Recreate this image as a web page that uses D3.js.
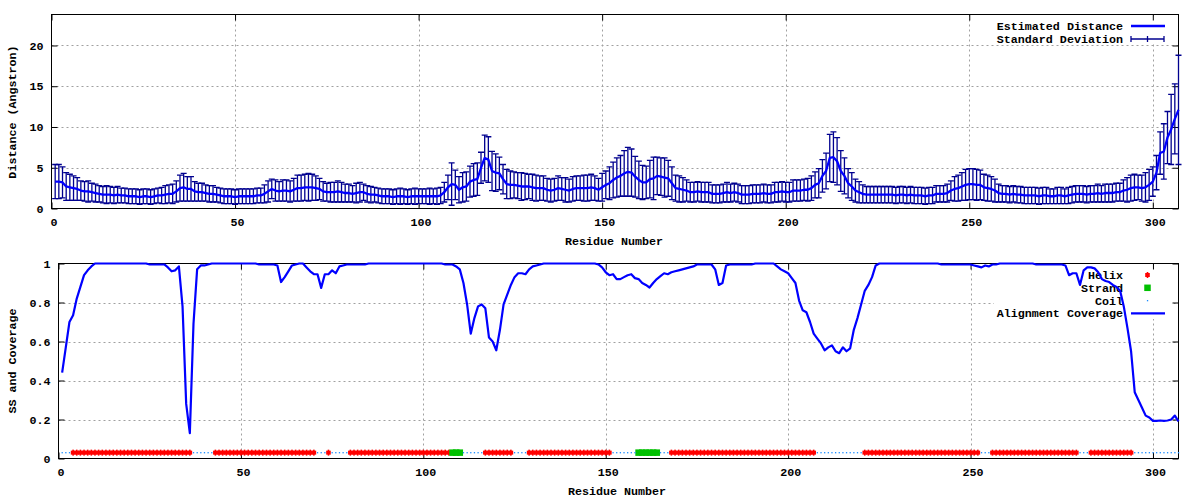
<!DOCTYPE html>
<html><head><meta charset="utf-8">
<script src="https://cdn.jsdelivr.net/npm/d3@7/dist/d3.min.js"></script>
<style>
body{margin:0;background:#fff}
svg{display:block}
text{font-family:"Liberation Mono","DejaVu Sans Mono",monospace;font-weight:bold;font-size:11.7px;fill:#000}
</style>
</head><body>
<svg id="c" width="1200" height="500"></svg>
<script>
// ---------------- DATA ----------------
const xTicks = [0, 50, 100, 150, 200, 250, 300];
const yTicksTop = [0, 5, 10, 15, 20];
const yTicksBottom = [0, 0.2, 0.4, 0.6, 0.8, 1];
const yTickLabelsBottom = ["0", "0.2", "0.4", "0.6", "0.8", "1"];

const topLegend = ["Estimated Distance", "Standard Deviation"];
const bottomLegend = ["Helix", "Strand", "Coil", "Alignment Coverage"];

// Estimated distance (Angstrom), residues 1..307
const meanDist = [
3.3,3.3,3.2,2.7,2.6,2.5,2.4,2.2,2.1,2.1,
2.0,1.9,1.8,1.7,1.7,1.7,1.6,1.7,1.6,1.6,
1.5,1.5,1.5,1.4,1.5,1.5,1.4,1.5,1.6,1.6,
1.7,1.8,1.8,2.1,2.5,2.6,2.4,2.4,2.1,2.0,
2.0,1.9,1.8,1.8,1.7,1.6,1.5,1.5,1.5,1.4,
1.5,1.5,1.5,1.5,1.5,1.6,1.6,1.8,2.1,2.4,
2.2,2.1,2.2,2.2,2.1,2.3,2.5,2.5,2.6,2.6,
2.6,2.5,2.4,2.1,2.0,2.0,2.0,2.1,2.0,1.9,
1.9,1.8,1.9,2.0,2.0,1.8,1.7,1.7,1.6,1.5,
1.5,1.5,1.4,1.5,1.5,1.5,1.4,1.5,1.5,1.5,
1.5,1.5,1.5,1.5,1.5,1.6,2.0,2.6,3.0,2.9,
2.3,2.6,2.7,3.3,3.5,3.6,5.0,6.2,6.0,4.6,
4.4,4.3,3.6,3.0,2.9,2.9,2.8,2.7,2.7,2.7,
2.6,2.5,2.5,2.5,2.3,2.2,2.3,2.5,2.4,2.3,
2.2,2.4,2.5,2.5,2.5,2.5,2.6,2.5,2.3,2.6,
2.9,3.1,3.5,3.8,4.0,4.3,4.5,4.4,3.9,3.5,
3.2,3.2,3.6,3.7,4.0,3.9,3.8,3.7,3.1,2.5,
2.4,2.3,2.2,2.0,2.0,2.1,2.0,2.0,2.0,1.8,
1.8,1.8,1.9,2.0,1.9,2.0,1.9,1.7,1.7,1.7,
1.8,1.8,1.8,1.9,1.8,1.8,2.0,2.0,2.1,2.0,
2.0,2.2,2.2,2.2,2.3,2.3,2.5,2.9,3.1,4.0,
4.6,6.2,6.3,5.8,4.6,4.0,3.1,2.7,2.2,2.0,
1.8,1.7,1.7,1.7,1.7,1.7,1.7,1.7,1.7,1.6,
1.7,1.7,1.6,1.7,1.6,1.6,1.6,1.5,1.6,1.6,
1.8,1.8,1.8,1.9,2.2,2.4,2.5,2.7,2.9,3.0,
3.0,2.9,2.9,2.6,2.5,2.4,2.2,1.9,1.8,1.8,
1.7,1.8,1.7,1.7,1.6,1.6,1.6,1.6,1.5,1.6,
1.6,1.5,1.5,1.6,1.6,1.5,1.6,1.7,1.8,1.8,
1.8,1.7,1.8,1.8,1.9,1.8,1.9,1.9,1.9,2.0,
2.0,2.2,2.3,2.5,2.6,2.6,2.5,2.6,2.9,3.3,
4.4,6.8,7.0,8.7,9.7,11.0,12.1
];

// Standard deviation, residues 1..307
const sdDist = [
2.1,2.1,1.9,1.7,1.6,1.5,1.4,1.2,1.2,1.3,
1.1,1.1,1.0,1.0,1.1,1.0,1.0,1.0,0.9,0.9,
0.9,0.9,0.9,0.9,0.9,0.9,0.9,0.9,0.9,1.0,
1.1,1.1,1.2,1.3,1.6,1.7,1.5,1.5,1.2,1.1,
1.1,1.0,1.0,1.0,0.9,0.9,0.9,0.9,0.9,0.9,
0.9,0.9,0.9,0.9,0.9,0.9,0.9,1.1,1.3,1.2,
1.3,1.2,1.3,1.3,1.3,1.4,1.6,1.6,1.6,1.7,
1.6,1.5,1.3,1.2,1.1,1.2,1.2,1.3,1.2,1.1,
1.1,1.0,1.2,1.2,1.0,1.0,1.0,0.9,0.9,0.9,
0.9,0.9,0.9,0.9,1.0,0.9,0.9,0.9,1.0,0.9,
0.9,0.9,1.0,0.9,1.0,1.0,1.2,1.5,2.6,1.8,
1.6,1.8,1.8,1.9,2.0,2.0,1.9,2.8,2.8,2.4,
2.3,2.0,1.8,1.8,1.7,1.6,1.6,1.7,1.6,1.5,
1.6,1.6,1.5,1.5,1.4,1.4,1.4,1.5,1.4,1.5,
1.4,1.5,1.5,1.5,1.6,1.6,1.6,1.5,1.4,1.7,
1.7,2.0,2.2,2.4,2.5,2.8,3.0,2.9,2.5,2.3,
2.1,2.0,2.3,2.6,2.3,2.3,2.4,2.2,2.0,1.6,
1.6,1.5,1.3,1.2,1.2,1.2,1.2,1.2,1.2,1.1,
1.1,1.1,1.1,1.2,1.1,1.1,1.1,1.1,1.1,1.1,
1.1,1.1,1.1,1.1,1.1,1.1,1.2,1.2,1.2,1.2,
1.2,1.3,1.3,1.3,1.3,1.4,1.5,1.6,1.8,2.0,
2.2,2.9,3.1,2.9,2.5,2.2,1.8,1.7,1.4,1.3,
1.1,1.0,1.0,1.0,1.0,1.0,1.0,1.0,1.0,1.0,
1.0,1.0,1.0,1.0,1.0,1.0,1.0,1.0,1.0,1.0,
1.0,1.0,1.0,1.1,1.2,1.5,1.6,1.7,1.9,1.9,
1.9,1.9,1.8,1.6,1.6,1.5,1.4,1.1,1.0,1.0,
1.0,1.0,1.0,1.0,1.0,1.0,1.0,1.0,1.0,1.0,
1.0,0.9,0.9,1.0,1.0,0.9,1.0,1.0,1.0,1.0,
1.0,1.0,1.0,1.0,1.1,1.0,1.1,1.1,1.1,1.1,
1.1,1.3,1.5,1.6,1.6,1.5,1.6,1.8,1.9,1.8,
2.1,2.6,3.4,3.2,4.3,4.3,6.7
];

// Alignment coverage, residues 1..307
const coverage = [
0.44,0.57,0.70,0.735,0.82,0.88,0.94,0.965,0.985,1.0,
1.0,1.0,1.0,1.0,1.0,1.0,1.0,1.0,1.0,1.0,
1.0,1.0,1.0,1.0,0.995,0.995,0.995,0.995,0.995,0.98,
0.96,0.965,0.985,0.78,0.28,0.13,0.69,0.97,0.99,0.99,
0.995,1.0,1.0,1.0,1.0,1.0,1.0,1.0,1.0,1.0,
1.0,1.0,1.0,1.0,0.995,0.995,0.995,0.995,0.995,0.99,
0.905,0.93,0.96,0.99,0.995,1.0,1.0,0.98,0.96,0.945,
0.945,0.875,0.945,0.945,0.965,0.95,0.985,0.99,0.995,0.995,
0.995,0.995,0.995,0.995,1.0,1.0,1.0,1.0,1.0,1.0,
1.0,1.0,1.0,1.0,1.0,1.0,1.0,1.0,1.0,1.0,
1.0,1.0,1.0,1.0,1.0,0.995,0.995,0.995,0.985,0.97,
0.90,0.79,0.64,0.72,0.78,0.79,0.77,0.62,0.60,0.555,
0.66,0.79,0.84,0.89,0.93,0.95,0.95,0.945,0.97,0.985,
0.99,0.995,1.0,1.0,1.0,1.0,1.0,1.0,1.0,1.0,
1.0,1.0,1.0,1.0,1.0,1.0,1.0,0.995,0.98,0.955,
0.94,0.945,0.92,0.92,0.93,0.94,0.945,0.925,0.92,0.90,
0.89,0.877,0.90,0.92,0.935,0.95,0.945,0.955,0.96,0.965,
0.97,0.975,0.98,0.985,0.995,0.995,0.995,0.995,0.995,0.97,
0.89,0.90,0.99,0.995,0.995,0.995,0.995,0.995,0.995,0.995,
1.0,1.0,1.0,1.0,1.0,1.0,0.985,0.97,0.96,0.95,
0.925,0.90,0.81,0.76,0.75,0.70,0.64,0.615,0.59,0.555,
0.57,0.58,0.55,0.54,0.57,0.55,0.565,0.66,0.72,0.79,
0.86,0.89,0.93,0.99,1.0,1.0,1.0,1.0,1.0,1.0,
1.0,1.0,1.0,1.0,1.0,1.0,1.0,1.0,1.0,1.0,
1.0,0.995,0.995,0.995,0.995,0.995,0.995,0.995,0.995,0.995,
0.99,0.985,0.98,0.99,0.985,0.995,0.995,1.0,1.0,1.0,
1.0,1.0,1.0,1.0,1.0,1.0,1.0,0.995,0.995,0.995,
0.995,0.995,0.995,0.995,0.995,0.99,0.94,0.95,0.95,0.89,
0.965,0.98,0.98,0.975,0.955,0.92,0.91,0.905,0.89,0.88,
0.86,0.78,0.67,0.55,0.34,0.30,0.26,0.22,0.21,0.193,
0.193,0.195,0.193,0.195,0.20,0.22,0.19
];

// Secondary structure segments (residue ranges)
const helixRanges = [[4,36],[43,70],[74,74],[80,107],[117,124],[129,151],[168,207],[221,252],[256,279],[283,294]];
const strandRanges = [[108,110],[159,164]];
const ssLevel = 0.03;

// ---------------- DRAW ----------------
const svg = d3.select("#c");
const residues = meanDist.map((_, i) => i + 1);

const inRanges = (r, rs) => rs.some(([a, b]) => r >= a && r <= b);
const ss = residues.map(r => inRanges(r, strandRanges) ? "E" : (inRanges(r, helixRanges) ? "H" : "C"));

const GRID = "#a0a0a0";
const NAVY = "#00008f";
const BLUE = "#0000ff";

function panel(cfg) {
  const {x, y, yTicks, yLabels, left, right, top, bottom, keyRect, maskId} = cfg;
  const g = svg.append("g");
  const defs = svg.append("defs");
  const m = defs.append("mask").attr("id", maskId).attr("maskUnits", "userSpaceOnUse")
    .attr("x", 0).attr("y", 0).attr("width", 1200).attr("height", 500);
  m.append("rect").attr("x", 0).attr("y", 0).attr("width", 1200).attr("height", 500).attr("fill", "#fff");
  m.append("rect").attr("x", keyRect[0]).attr("y", keyRect[1]).attr("width", keyRect[2]).attr("height", keyRect[3]).attr("fill", "#000");

  const grid = g.append("g").attr("mask", `url(#${maskId})`)
    .attr("stroke", GRID).attr("stroke-width", 1).attr("stroke-dasharray", "2,3");
  grid.selectAll("line.v").data(xTicks.filter(t => t > 0)).join("line")
    .attr("x1", d => Math.round(x(d)) + 0.5).attr("x2", d => Math.round(x(d)) + 0.5)
    .attr("y1", top).attr("y2", bottom);
  grid.selectAll("line.h").data(yTicks.filter(t => t > 0 && y(t) > top + 1)).join("line")
    .attr("y1", d => Math.round(y(d)) + 0.5).attr("y2", d => Math.round(y(d)) + 0.5)
    .attr("x1", left).attr("x2", right);

  const ax = (gen) => gen.tickSizeOuter(0);
  const gb = g.append("g").attr("transform", `translate(0,${bottom})`)
    .call(ax(d3.axisBottom(x).tickValues(xTicks).tickSizeInner(-6).tickPadding(9).tickFormat(d3.format("d"))));
  const gt = g.append("g").attr("transform", `translate(0,${top})`)
    .call(ax(d3.axisTop(x).tickValues(xTicks).tickSizeInner(-6).tickFormat("")));
  const gl = g.append("g").attr("transform", `translate(${left},0)`)
    .call(ax(d3.axisLeft(y).tickValues(yTicks).tickSizeInner(-6).tickPadding(8).tickFormat((d, i) => yLabels[i])));
  const gr = g.append("g").attr("transform", `translate(${right},0)`)
    .call(ax(d3.axisRight(y).tickValues(yTicks).tickSizeInner(-6).tickFormat("")));
  [gb, gt, gl, gr].forEach(a => {
    a.select(".domain").remove();
    a.attr("font-family", null).attr("font-size", null);
    a.selectAll(".tick line").attr("stroke", "#000");
    a.selectAll(".tick text").attr("fill", "#000");
  });
  gb.selectAll(".tick text").attr("dx", 2);
  g.append("rect").attr("x", left).attr("y", top).attr("width", right - left).attr("height", bottom - top)
    .attr("fill", "none").attr("stroke", "#000").attr("stroke-width", 1);
  return g;
}

// ---------- top panel ----------
const xT = d3.scaleLinear().domain([0, 307]).range([51.5, 1178.5]);
const yT = d3.scaleLinear().domain([0, 23.8]).range([208.5, 14.5]);
const gTop = panel({x: xT, y: yT, yTicks: yTicksTop, yLabels: yTicksTop.map(String),
  left: 51.5, right: 1178.5, top: 14.5, bottom: 208.5, keyRect: [994, 17, 180, 27], maskId: "m1"});

svg.append("text").attr("transform", "translate(12,112) rotate(-90)").attr("text-anchor", "middle")
  .attr("dy", "0.35em").text("Distance (Angstron)");
svg.append("text").attr("x", 614).attr("y", 241).attr("text-anchor", "middle").attr("dy", "0.35em").text("Residue Number");

const kT = gTop.append("g");
kT.selectAll("text").data(topLegend).join("text")
  .attr("x", 1123).attr("y", (d, i) => 26 + i * 13).attr("dy", "0.35em").attr("text-anchor", "end").text(d => d);
kT.append("line").attr("x1", 1131).attr("x2", 1165).attr("y1", 26).attr("y2", 26)
  .attr("stroke", BLUE).attr("stroke-width", 2.5);
const ek = kT.append("g").attr("stroke", NAVY).attr("stroke-width", 1.3);
ek.append("line").attr("x1", 1131).attr("x2", 1164).attr("y1", 39).attr("y2", 39);
[1131, 1147.5, 1164].forEach(xx => ek.append("line").attr("x1", xx).attr("x2", xx).attr("y1", 36).attr("y2", 42));

const eb = gTop.append("g").attr("stroke", NAVY).attr("stroke-width", 1.3).attr("fill", "none");
const cap = 3;
eb.selectAll("path").data(residues).join("path")
  .attr("d", r => {
    const i = r - 1, cx = xT(r);
    const y1 = yT(meanDist[i] + sdDist[i]), y0 = yT(Math.max(0, meanDist[i] - sdDist[i]));
    return `M${cx},${y0}V${y1}M${cx - cap},${y1}H${cx + cap}M${cx - cap},${y0}H${cx + cap}`;
  });
gTop.append("path").datum(residues)
  .attr("d", d3.line().x(r => xT(r)).y(r => yT(meanDist[r - 1])))
  .attr("fill", "none").attr("stroke", BLUE).attr("stroke-width", 2.3).attr("stroke-linejoin", "round");

// ---------- bottom panel ----------
const xB = d3.scaleLinear().domain([0, 307]).range([58.5, 1178.5]);
const yB = d3.scaleLinear().domain([0, 1]).range([458.5, 263.5]);
const gBot = panel({x: xB, y: yB, yTicks: yTicksBottom, yLabels: yTickLabelsBottom,
  left: 58.5, right: 1178.5, top: 263.5, bottom: 458.5, keyRect: [994, 267, 180, 52], maskId: "m2"});

svg.append("text").attr("transform", "translate(12,361) rotate(-90)").attr("text-anchor", "middle")
  .attr("dy", "0.35em").text("SS and Coverage");
svg.append("text").attr("x", 617).attr("y", 491).attr("text-anchor", "middle").attr("dy", "0.35em").text("Residue Number");

const HELIX = "#ff0000", STRAND = "#00c000", COIL = "#1a8cff";
function helixMark(sel, cx, cy) {
  sel.append("rect").attr("x", cx - 2.3).attr("y", cy - 2).attr("width", 4.6).attr("height", 4).attr("fill", HELIX);
  sel.append("rect").attr("x", cx - 0.8).attr("y", cy - 3).attr("width", 1.6).attr("height", 6).attr("fill", HELIX);
}
function strandMark(sel, cx, cy) {
  sel.append("rect").attr("x", cx - 3.25).attr("y", cy - 3.25).attr("width", 6.5).attr("height", 6.5).attr("fill", STRAND);
}
function coilMark(sel, cx, cy) {
  sel.append("rect").attr("x", cx - 0.6).attr("y", cy - 0.6).attr("width", 1.3).attr("height", 1.3).attr("fill", COIL);
}

const kB = gBot.append("g");
kB.selectAll("text").data(bottomLegend).join("text")
  .attr("x", 1123).attr("y", (d, i) => 275 + i * 12.8).attr("dy", "0.35em").attr("text-anchor", "end").text(d => d);
helixMark(kB, 1147.5, 275);
strandMark(kB, 1147.5, 287.8);
coilMark(kB, 1147.5, 300.6);
kB.append("line").attr("x1", 1131).attr("x2", 1165).attr("y1", 313.4).attr("y2", 313.4)
  .attr("stroke", BLUE).attr("stroke-width", 2.3);

const ssG = gBot.append("g");
const cy = yB(ssLevel);
residues.forEach((r, i) => { if (ss[i] === "H") helixMark(ssG, xB(r), cy); });
residues.forEach((r, i) => { if (ss[i] === "E") strandMark(ssG, xB(r), cy); });
residues.forEach((r, i) => { if (ss[i] === "C") coilMark(ssG, xB(r), cy); });

gBot.append("path").datum(residues)
  .attr("d", d3.line().x(r => xB(r)).y(r => yB(coverage[r - 1])))
  .attr("fill", "none").attr("stroke", BLUE).attr("stroke-width", 2.2).attr("stroke-linejoin", "round");
</script>
</body></html>
